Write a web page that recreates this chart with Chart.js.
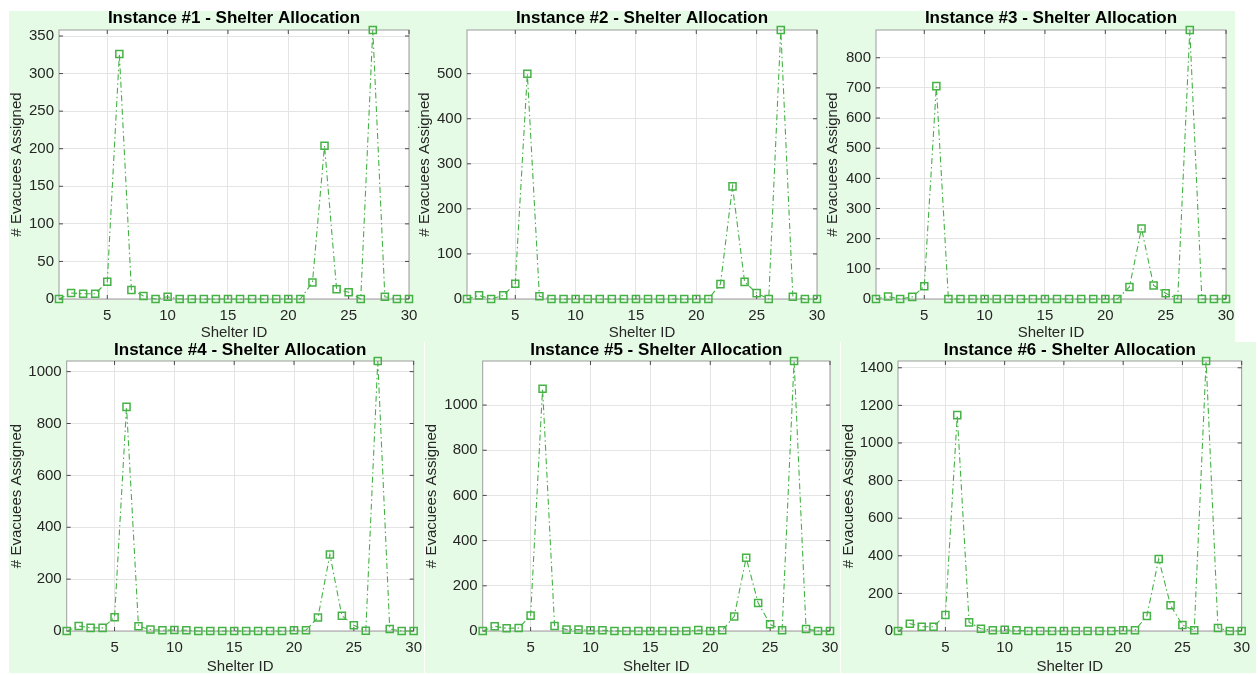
<!DOCTYPE html>
<html>
<head>
<meta charset="utf-8">
<title>Shelter Allocation</title>
<script src="https://cdn.jsdelivr.net/npm/chart.js@4.4.1/dist/chart.umd.min.js"></script>
<style>
  html, body { margin: 0; padding: 0; background: #ffffff; }
  body { position: relative; width: 1258px; height: 675px; overflow: hidden; }
  .panel-bg { position: absolute; background: #e6fbe6; }
  canvas { position: absolute; }
</style>
</head>
<body>
<div class="panel-bg" style="left:9px;top:11px;width:1226px;height:331px"></div>
<div class="panel-bg" style="left:9px;top:342px;width:415px;height:331px"></div>
<div class="panel-bg" style="left:425px;top:342px;width:415px;height:331px"></div>
<div class="panel-bg" style="left:841px;top:342px;width:415px;height:331px"></div>

<canvas id="c1"></canvas>
<canvas id="c2"></canvas>
<canvas id="c3"></canvas>
<canvas id="c4"></canvas>
<canvas id="c5"></canvas>
<canvas id="c6"></canvas>

<script>
// Shelter IDs on the x axis
const shelterIds = [1, 2, 3, 4, 5, 6, 7, 8, 9, 10, 11, 12, 13, 14, 15,
                    16, 17, 18, 19, 20, 21, 22, 23, 24, 25, 26, 27, 28, 29, 30];

// Evacuees assigned to each shelter, one array per instance
const instance1 = [0, 8, 7, 7, 23, 326, 12, 4, 0, 3, 0, 0, 0, 0, 0,
                   0, 0, 0, 0, 0, 0, 22, 204, 13, 9, 0, 358, 3, 0, 0];
const instance2 = [0, 8, 0, 8, 34, 500, 6, 0, 0, 0, 0, 0, 0, 0, 0,
                   0, 0, 0, 0, 0, 0, 33, 250, 38, 13, 0, 597, 5, 0, 0];
const instance3 = [0, 8, 0, 7, 42, 706, 0, 0, 0, 0, 0, 0, 0, 0, 0,
                   0, 0, 0, 0, 0, 0, 40, 234, 45, 19, 0, 892, 0, 0, 0];
const instance4 = [0, 19, 12, 12, 53, 864, 18, 6, 3, 4, 3, 0, 0, 0, 0,
                   0, 0, 0, 0, 3, 3, 52, 295, 59, 22, 1, 1041, 8, 0, 0];
const instance5 = [0, 21, 12, 13, 68, 1072, 22, 6, 6, 3, 3, 0, 0, 0, 0,
                   0, 0, 0, 4, 0, 3, 64, 324, 124, 30, 3, 1195, 9, 0, 0];
const instance6 = [0, 39, 23, 23, 85, 1148, 46, 12, 4, 7, 4, 0, 0, 0, 0,
                   0, 0, 0, 0, 4, 4, 80, 383, 137, 32, 4, 1436, 16, 0, 0];

// Tick labels
const xTicks = [5, 10, 15, 20, 25, 30];
const yTicks1 = [0, 50, 100, 150, 200, 250, 300, 350];
const yTicks2 = [0, 100, 200, 300, 400, 500];
const yTicks3 = [0, 100, 200, 300, 400, 500, 600, 700, 800];
const yTicks4 = [0, 200, 400, 600, 800, 1000];
const yTicks5 = [0, 200, 400, 600, 800, 1000];
const yTicks6 = [0, 200, 400, 600, 800, 1000, 1200, 1400];

const titles = [
  'Instance #1 - Shelter Allocation',
  'Instance #2 - Shelter Allocation',
  'Instance #3 - Shelter Allocation',
  'Instance #4 - Shelter Allocation',
  'Instance #5 - Shelter Allocation',
  'Instance #6 - Shelter Allocation'
];
const xAxisLabel = 'Shelter ID';
const yAxisLabel = '# Evacuees Assigned';

// Page geometry of each subplot: canvas box, plot box and label anchors
const layouts = [
  { cx: 0,   cy: 0,   w: 430, h: 342, l: 59,    t: 30,  r: 409,  b: 299, titleY: 18.3,  yLabelX: 16.7,  xLabelY: 333 },
  { cx: 414, cy: 0,   w: 424, h: 342, l: 467,   t: 30,  r: 817,  b: 299, titleY: 18.3,  yLabelX: 425,   xLabelY: 333 },
  { cx: 824, cy: 0,   w: 434, h: 342, l: 876,   t: 30,  r: 1226, b: 299, titleY: 18.3,  yLabelX: 833.3, xLabelY: 333 },
  { cx: 0,   cy: 335, w: 430, h: 341, l: 66.7,  t: 361, r: 414,  b: 631, titleY: 350.7, yLabelX: 16.7,  xLabelY: 666.7 },
  { cx: 420, cy: 335, w: 430, h: 341, l: 482.7, t: 361, r: 830,  b: 631, titleY: 350.7, yLabelX: 431.7, xLabelY: 666.7 },
  { cx: 836, cy: 335, w: 422, h: 341, l: 898,   t: 361, r: 1246, b: 631, titleY: 350.7, yLabelX: 849.3, xLabelY: 666.7 }
];

const seriesList = [instance1, instance2, instance3, instance4, instance5, instance6];
const yTickList = [yTicks1, yTicks2, yTicks3, yTicks4, yTicks5, yTicks6];

const FONT = '"Liberation Sans", Arial, Helvetica, sans-serif';
const LINE_GREEN = '#45b245';
const TEXT_GREY = '#262626';
const GRID_GREY = '#e4e4e4';
const FRAME_GREY = '#9c9c9c';
const TICK_GREY = '#4a4a4a';

Chart.defaults.font.family = FONT;

// White plot area, boxed axes with inward tick marks on all four sides
const axesBox = {
  id: 'axesBox',
  beforeDraw(chart) {
    const { ctx, chartArea: a } = chart;
    ctx.save();
    ctx.fillStyle = '#ffffff';
    ctx.fillRect(a.left, a.top, a.right - a.left, a.bottom - a.top);
    ctx.restore();
  },
  beforeDatasetsDraw(chart) {
    const { ctx, chartArea: a, scales } = chart;
    const len = 4;
    ctx.save();
    ctx.lineWidth = 1;
    ctx.strokeStyle = FRAME_GREY;
    ctx.strokeRect(a.left, a.top, a.right - a.left, a.bottom - a.top);
    ctx.strokeStyle = TICK_GREY;
    ctx.beginPath();
    scales.x.ticks.forEach(tk => {
      const px = scales.x.getPixelForValue(tk.value);
      ctx.moveTo(px, a.bottom); ctx.lineTo(px, a.bottom - len);
      ctx.moveTo(px, a.top);    ctx.lineTo(px, a.top + len);
    });
    scales.y.ticks.forEach(tk => {
      const py = scales.y.getPixelForValue(tk.value);
      ctx.moveTo(a.left, py);  ctx.lineTo(a.left + len, py);
      ctx.moveTo(a.right, py); ctx.lineTo(a.right - len, py);
    });
    ctx.stroke();
    ctx.restore();
  }
};

function drawPanel(canvas, series, yTicks, title, box) {
  const { cx, cy, w, h, l, t, r, b, titleY, yLabelX, xLabelY } = box;
  canvas.width = w;
  canvas.height = h;
  canvas.style.left = cx + 'px';
  canvas.style.top = cy + 'px';

  const titleSize = 17;
  const titleLine = titleSize * 1.2;
  const titlePadTop = titleY - cy - titleLine / 2;
  const titlePadBottom = (t - cy) - titlePadTop - titleLine;
  const labelHalf = 15 * 1.2 / 2;

  new Chart(canvas, {
    type: 'line',
    data: {
      datasets: [{
        data: shelterIds.map((id, i) => ({ x: id, y: series[i] })),
        borderColor: LINE_GREEN,
        borderWidth: 1.1,
        borderDash: [6, 3, 1.5, 3],
        tension: 0,
        pointStyle: 'rect',
        pointRadius: 5,
        pointBorderWidth: 1.5,
        pointBorderColor: LINE_GREEN,
        pointBackgroundColor: 'rgba(255,255,255,0)',
        clip: false
      }]
    },
    options: {
      responsive: false,
      animation: false,
      devicePixelRatio: 1,
      layout: { padding: { left: 0, top: 0, right: cx + w - r, bottom: 0 } },
      plugins: {
        legend: { display: false },
        tooltip: { enabled: false },
        title: {
          display: true,
          text: title,
          fullSize: false,
          color: '#000000',
          font: { family: FONT, size: titleSize, weight: 'bold', lineHeight: 1.2 },
          padding: { top: titlePadTop, bottom: titlePadBottom }
        }
      },
      scales: {
        x: {
          type: 'linear',
          min: 1,
          max: 30,
          afterBuildTicks: s => { s.ticks = xTicks.map(v => ({ value: v })); },
          afterFit: s => { s.height = cy + h - b; },
          grid: { color: GRID_GREY, lineWidth: 1, drawTicks: false },
          border: { display: false },
          ticks: { padding: 8, color: TEXT_GREY, font: { size: 15 }, maxRotation: 0, autoSkip: false,
                   callback: v => String(v) },
          title: {
            display: true, text: xAxisLabel, color: TEXT_GREY,
            font: { size: 15, lineHeight: 1.2 },
            padding: { top: 0, bottom: cy + h - labelHalf - xLabelY }
          }
        },
        y: {
          type: 'linear',
          min: 0,
          max: Math.max(...series),
          afterBuildTicks: s => { s.ticks = yTicks.map(v => ({ value: v })); },
          afterFit: s => { s.width = l - cx; },
          grid: { color: GRID_GREY, lineWidth: 1, drawTicks: false },
          border: { display: false },
          ticks: { padding: 5, color: TEXT_GREY, font: { size: 15 }, autoSkip: false,
                   callback: v => String(v) },
          title: {
            display: true, text: yAxisLabel, color: TEXT_GREY,
            font: { size: 15, lineHeight: 1.2 },
            padding: { top: yLabelX - cx - labelHalf, bottom: 0 }
          }
        }
      }
    },
    plugins: [axesBox]
  });
}

layouts.forEach((box, i) => {
  drawPanel(document.getElementById('c' + (i + 1)), seriesList[i], yTickList[i], titles[i], box);
});
</script>
</body>
</html>
